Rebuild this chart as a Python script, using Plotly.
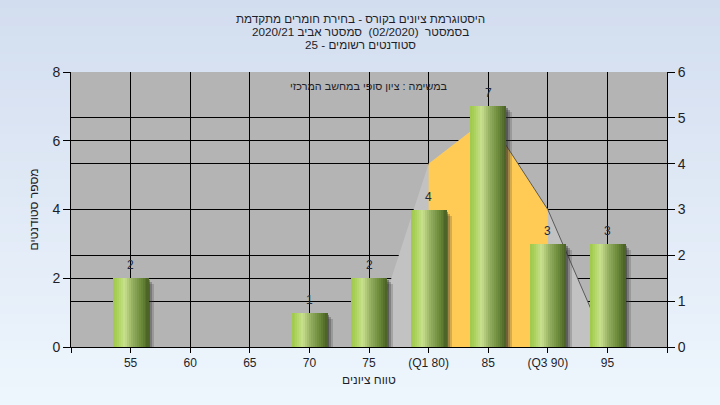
import plotly.graph_objects as go

# ---------------- data ----------------
grades = [55, 60, 65, 70, 75, 80, 85, 90, 95]
grade_labels = ["55", "60", "65", "70", "75", "(Q1 80)", "85", "(Q3 90)", "95"]
counts = [2, 0, 0, 1, 2, 4, 7, 3, 3]

curve_x = [75, 80, 85, 90, 95]
curve_y = [0, 4, 5, 3, 0]
q1_grade = 80
q3_grade = 90

left_ticks = [0, 2, 4, 6, 8]
right_ticks = [0, 1, 2, 3, 4, 5, 6]

title_lines = [
    "היסטוגרמת ציונים בקורס - בחירת חומרים מתקדמת",
    "בסמסטר  (02/2020)  סמסטר אביב 2020/21",
    "סטודנטים רשומים - 25",
]
note_text = "במשימה : ציון סופי במחשב המרכזי"
x_title = "טווח ציונים"
y_title = "מספר סטודנטים"

# ---------------- style ----------------
FONT = "Liberation Sans, Arial, sans-serif"
TXT = "#1e1e28"
RLE, PDF = "\u202b", "\u202c"
W, H = 720, 405
ML, MR, MT, MB = 71, 53, 72, 58
PW, PH = W - ML - MR, H - MT - MB
BAR_W = 3.0
px_x = 50.0 / PW          # grade units per pixel
px_y = 8.0 / PH           # left-axis units per pixel


def rtl(s):
    return RLE + s + PDF


def lerp(c1, c2, t):
    return tuple(round(a + (b - a) * t) for a, b in zip(c1, c2))


def hex2rgb(h):
    h = h.lstrip("#")
    return tuple(int(h[i:i + 2], 16) for i in (0, 2, 4))


def grad_color(stops, t):
    for (t0, c0), (t1, c1) in zip(stops, stops[1:]):
        if t0 <= t <= t1:
            return lerp(hex2rgb(c0), hex2rgb(c1), (t - t0) / (t1 - t0))
    return hex2rgb(stops[-1][1])


fig = go.Figure()

# --- normal curve area (main y axis, right side) ---
fig.add_trace(go.Scatter(
    x=curve_x, y=curve_y, mode="lines", fill="tozeroy",
    fillcolor="#c2c2c2", line=dict(width=0, color="#c2c2c2"),
    hoverinfo="skip", showlegend=False, yaxis="y"))
iq_x = [x for x in curve_x if q1_grade <= x <= q3_grade]
iq_y = [y for x, y in zip(curve_x, curve_y) if q1_grade <= x <= q3_grade]
fig.add_trace(go.Scatter(
    x=iq_x, y=iq_y, mode="lines", fill="tozeroy",
    fillcolor="#ffcb55", line=dict(width=0, color="#ffcb55"),
    hoverinfo="skip", showlegend=False, yaxis="y"))
peak = curve_y.index(max(curve_y))
fig.add_trace(go.Scatter(
    x=curve_x[peak:], y=curve_y[peak:], mode="lines",
    line=dict(width=1, color="#5a5a5a"),
    hoverinfo="skip", showlegend=False, yaxis="y"))

# --- bar shadows ---
for dpx, col in [(6, "rgba(60,60,60,0.22)"), (4, "rgba(50,50,50,0.30)"), (2, "rgba(40,40,40,0.40)")]:
    dy = dpx * px_y
    fig.add_trace(go.Bar(
        x=grades, y=counts, base=[-dy] * len(grades),
        width=BAR_W, offset=-BAR_W / 2 + dpx * px_x,
        marker=dict(color=col, line=dict(width=0)),
        hoverinfo="skip", showlegend=False, yaxis="y2"))

# --- gradient bars built from strips ---
stops = [(0.0, "#9ec84a"), (0.12, "#a9d15a"), (0.32, "#c8e08e"),
         (0.55, "#93ad60"), (0.8, "#6a8838"), (1.0, "#4a5f26")]
N = 18
sw = BAR_W / N
for i in range(N):
    c = grad_color(stops, (i + 0.5) / N)
    fig.add_trace(go.Bar(
        x=grades, y=counts, width=sw * 1.15, offset=-BAR_W / 2 + i * sw,
        marker=dict(color="rgb(%d,%d,%d)" % c, line=dict(width=0)),
        hoverinfo="skip", showlegend=False, yaxis="y2"))

# --- background shapes ---
shapes = []
top_c, bot_c = hex2rgb("#d2ddef"), hex2rgb("#eef6fd")
NS = 45
y_top = (PH + MT) / PH
y_bot = -MB / PH
for i in range(NS):
    t = (i + 0.5) / NS
    c = lerp(top_c, bot_c, t)
    y1 = y_top - (y_top - y_bot) * i / NS
    y0 = y_top - (y_top - y_bot) * (i + 1) / NS
    shapes.append(dict(type="rect", xref="paper", yref="paper",
                       x0=-ML / PW - 0.01, x1=(PW + MR) / PW + 0.01,
                       y0=y0 - 0.003, y1=y1 + 0.003, layer="below",
                       line=dict(width=0), fillcolor="rgb(%d,%d,%d)" % c))
shapes.append(dict(type="rect", xref="paper", yref="paper", x0=0, x1=1, y0=0, y1=1,
                   layer="below", line=dict(width=0), fillcolor="#b4b4b4"))

# --- annotations ---
ann = []
for xv, v in zip(grades, counts):
    if v > 0:
        ann.append(dict(x=xv, y=v, xref="x", yref="y2", text=str(v), showarrow=False,
                        yshift=13, font=dict(family=FONT, size=12, color="#22283a")))
for k, line in enumerate(title_lines):
    yc = 18.5 + 13 * k
    ann.append(dict(x=(W / 2 - ML) / PW, y=(MT + PH - yc) / PH, xref="paper", yref="paper",
                    text=rtl(line), showarrow=False, xanchor="center", yanchor="middle",
                    font=dict(family=FONT, size=11.7, color=TXT)))
ann.append(dict(x=0.5, y=(PH - 14) / PH, xref="paper", yref="paper", text=rtl(note_text),
                showarrow=False, xanchor="center", yanchor="middle",
                font=dict(family=FONT, size=10.8, color=TXT)))
ann.append(dict(x=0.5, y=-33 / PH, xref="paper", yref="paper", text=rtl(x_title),
                showarrow=False, xanchor="center", yanchor="middle",
                font=dict(family=FONT, size=12, color=TXT)))
ann.append(dict(x=(33 - ML) / PW, y=0.5, xref="paper", yref="paper", text=rtl(y_title),
                showarrow=False, xanchor="center", yanchor="middle", textangle=-90,
                font=dict(family=FONT, size=12, color=TXT)))

fig.update_layout(
    width=W, height=H, margin=dict(l=ML, r=MR, t=MT, b=MB, autoexpand=False),
    paper_bgcolor="#e0e9f6", plot_bgcolor="#b4b4b4",
    barmode="overlay", bargap=0, showlegend=False,
    shapes=shapes, annotations=ann,
    xaxis=dict(range=[50, 100], tickvals=[50] + grades + [100],
               ticktext=[""] + grade_labels + [""],
               showgrid=True, gridcolor="#000000", gridwidth=1, zeroline=False,
               showline=True, linecolor="#000000", linewidth=1,
               ticks="outside", ticklen=5, tickcolor="#000000",
               tickfont=dict(family=FONT, size=12, color=TXT), fixedrange=True),
    yaxis=dict(side="right", range=[0, 6], tickvals=right_ticks,
               showgrid=True, gridcolor="#000000", gridwidth=1, zeroline=False,
               showline=True, linecolor="#000000", linewidth=1,
               ticks="outside", ticklen=7, tickcolor="#000000",
               tickfont=dict(family=FONT, size=14, color=TXT), fixedrange=True),
    yaxis2=dict(side="left", overlaying="y", range=[0, 8], tickvals=left_ticks,
                showgrid=True, gridcolor="#000000", gridwidth=1, zeroline=False,
                showline=True, linecolor="#000000", linewidth=1,
                ticks="outside", ticklen=7, tickcolor="#000000",
                tickfont=dict(family=FONT, size=14, color=TXT), fixedrange=True),
)

fig.write_html("out.html", config={"displayModeBar": False},
               post_script="document.body.style.margin='0';document.body.style.padding='0';")
